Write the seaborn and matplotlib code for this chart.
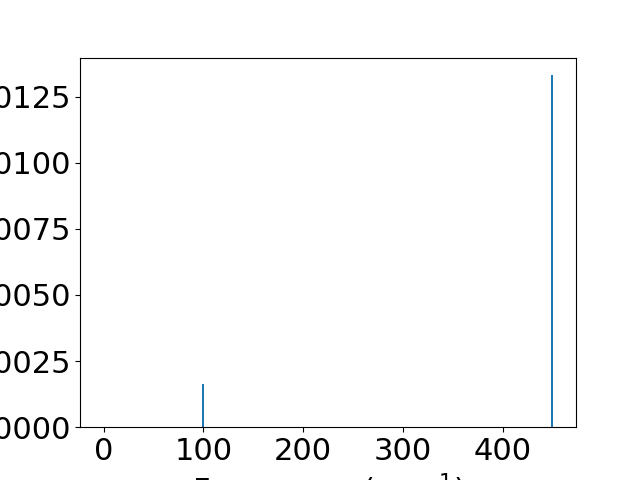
import matplotlib
matplotlib.use("Agg")
import matplotlib.pyplot as plt
import seaborn as sns

# spectrum data
freqs = [0, 100, 450]
intensities = [0.0, 0.00163, 0.01331]

plt.rcParams["font.size"] = 22
color = sns.color_palette("tab10")[0]

fig, ax = plt.subplots(figsize=(6.4, 4.8), dpi=100)
ax.bar(freqs, intensities, width=2, color=color)
ax.set_xlabel("Frequency (cm$^{-1}$)")
ax.set_ylabel("Intensity")
fig.savefig("out.png")
